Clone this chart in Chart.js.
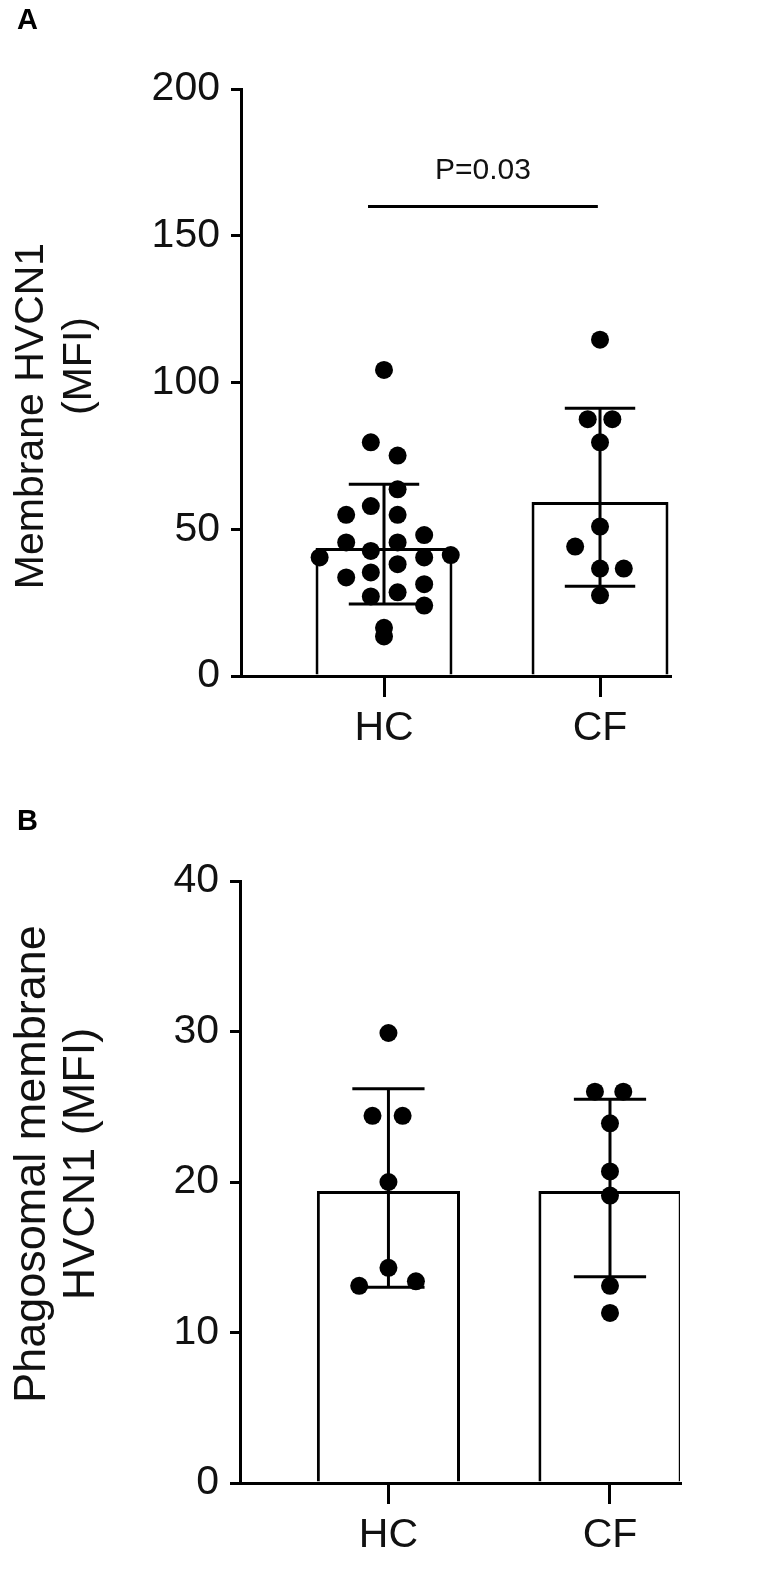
<!DOCTYPE html>
<html><head><meta charset="utf-8">
<script src="https://cdn.jsdelivr.net/npm/chart.js@4.4.1/dist/chart.umd.min.js"></script>
<style>
html,body{margin:0;padding:0;background:#fff;}
#wrap{position:relative;width:774px;height:1581px;overflow:hidden;}
canvas{position:absolute;left:0;}
#cA{top:0;} #cB{top:780px;}
.lbl{position:absolute;left:17px;font:bold 29px "Liberation Sans",Arial,sans-serif;line-height:1;color:#000;}
</style></head><body>
<div id="wrap">
<canvas id="cA" width="774" height="780"></canvas>
<canvas id="cB" width="774" height="801"></canvas>
<div class="lbl" style="top:5px">A</div>
<div class="lbl" style="top:806px">B</div>
</div>
<script>
// ---------- data ----------
const categories = ['HC', 'CF'];
const categoryX = [1, 2];

// Panel A: Membrane HVCN1 (MFI)
const aBarMeans = [43.6, 59.3];
const aErrLow  = [24.5, 30.6];
const aErrHigh = [65.3, 91.2];
const aHCPoints = [104.3, 79.6, 75.1, 63.6, 57.9, 54.9, 54.9, 48.0, 45.5, 45.5, 42.6, 40.4, 41.2, 40.4, 38.1, 35.3, 33.6, 31.3, 28.5, 27.1, 24.0, 16.4, 13.5];
const aHCJitter = [0, -0.061, 0.063, 0.063, -0.061, -0.175, 0.063, 0.186, -0.175, 0.063, -0.061, -0.298, 0.309, 0.186, 0.063, -0.061, -0.175, 0.186, 0.063, -0.061, 0.186, 0, 0];
const aCFPoints = [114.6, 87.5, 87.5, 79.6, 50.9, 44.1, 36.6, 36.6, 27.5];
const aCFJitter = [0, -0.057, 0.057, 0, 0, -0.115, 0, 0.11, 0];
const aYTicks = [0, 50, 100, 150, 200];
const aYTitle = ['Membrane HVCN1', '(MFI)'];
const aSigX = [0.926, 1.99];
const aSigY = 160;
const aSigLabel = 'P=0.03';

// Panel B: Phagosomal membrane HVCN1 (MFI)
const bBarMeans = [19.4, 19.4];
const bErrLow  = [13.0, 13.7];
const bErrHigh = [26.2, 25.5];
const bHCPoints = [29.9, 24.4, 24.4, 20.0, 14.3, 13.1, 13.4];
const bHCJitter = [0, -0.072, 0.064, 0, 0, -0.132, 0.124];
const bCFPoints = [26.0, 26.0, 23.9, 20.7, 19.1, 13.1, 11.3];
const bCFJitter = [-0.068, 0.06, 0, 0, 0, 0, 0];
const bYTicks = [0, 10, 20, 30, 40];
const bYTitle = ['Phagosomal membrane', 'HVCN1 (MFI)'];

// ---------- chart builder ----------
const FONT = '"Liberation Sans", Arial, sans-serif';
const INK = '#111';
const CAP_HALF = 0.163;

function lineDs(points) {
  return { type: 'line', data: points, borderColor: '#000', borderWidth: 3,
           pointRadius: 0, fill: false, tension: 0, order: 1 };
}

function makeTextPlugin(p) {
  return {
    id: 'texts',
    afterDraw(chart) {
      const ctx = chart.ctx;
      ctx.save();
      ctx.fillStyle = INK;
      ctx.font = p.titleFont;
      p.yTitle.forEach((t, i) => {
        ctx.save();
        ctx.translate(p.titlePos[i][0], p.titlePos[i][1]);
        ctx.rotate(-Math.PI / 2);
        ctx.textAlign = 'center';
        ctx.textBaseline = 'alphabetic';
        ctx.fillText(t, 0, 0);
        ctx.restore();
      });
      if (p.sigLabel) {
        const xs = chart.scales.x, ys = chart.scales.y;
        ctx.font = '30px ' + FONT;
        ctx.textAlign = 'center';
        ctx.textBaseline = 'middle';
        ctx.fillText(p.sigLabel, xs.getPixelForValue(p.sigLabelX), ys.getPixelForValue(p.sigLabelY));
      }
      ctx.restore();
    }
  };
}

function buildChart(id, p) {
  const ds = [];
  ds.push({ type: 'bar', data: categoryX.map((x, i) => ({ x: x, y: p.means[i] })),
            backgroundColor: '#fff', borderColor: '#000', borderWidth: 3, borderSkipped: 'bottom',
            barPercentage: p.barPct, categoryPercentage: 1, order: 3 });
  categoryX.forEach((x, i) => {
    ds.push(lineDs([{ x: x, y: p.low[i] }, { x: x, y: p.high[i] }]));
    ds.push(lineDs([{ x: x - CAP_HALF, y: p.high[i] }, { x: x + CAP_HALF, y: p.high[i] }]));
    ds.push(lineDs([{ x: x - CAP_HALF, y: p.low[i] }, { x: x + CAP_HALF, y: p.low[i] }]));
  });
  p.groups.forEach((g, gi) => {
    ds.push({ type: 'scatter', data: g.values.map((v, k) => ({ x: categoryX[gi] + g.jitter[k], y: v })),
              pointRadius: 9, pointHoverRadius: 9, backgroundColor: '#000', borderWidth: 0, order: 0 });
  });
  if (p.sigX) {
    ds.push(lineDs([{ x: p.sigX[0], y: p.sigY }, { x: p.sigX[1], y: p.sigY }]));
  }
  const canvas = document.getElementById(id);
  return new Chart(canvas, {
    type: 'bar',
    data: { datasets: ds },
    plugins: [makeTextPlugin(p)],
    options: {
      responsive: false,
      animation: false,
      events: [],
      layout: { padding: p.padding },
      plugins: { legend: { display: false }, tooltip: { enabled: false } },
      scales: {
        x: {
          type: 'linear', min: p.xMin, max: p.xMax, offset: false,
          afterFit: (s) => { s.height = p.xAxisHeight; },
          afterBuildTicks: (s) => { s.ticks = categoryX.map(v => ({ value: v })); },
          ticks: { callback: (v, i) => categories[i], font: { size: 41, family: FONT }, color: INK, padding: 7, maxRotation: 0, autoSkip: false },
          grid: { display: true, offset: false, drawOnChartArea: false, drawTicks: true, tickLength: 21, color: '#000', lineWidth: 3 },
          border: { display: true, color: '#000', width: 3 }
        },
        y: {
          type: 'linear', min: p.yTicks[0], max: p.yTicks[p.yTicks.length - 1],
          afterFit: (s) => { s.width = p.yAxisWidth; },
          afterBuildTicks: (s) => { s.ticks = p.yTicks.map(v => ({ value: v })); },
          ticks: { font: { size: 41, family: FONT }, color: INK, padding: 11 },
          grid: { display: true, drawOnChartArea: false, drawTicks: true, tickLength: 10, color: '#000', lineWidth: 3 },
          border: { display: true, color: '#000', width: 3 }
        }
      }
    }
  });
}

buildChart('cA', {
  means: aBarMeans, low: aErrLow, high: aErrHigh,
  groups: [{ values: aHCPoints, jitter: aHCJitter }, { values: aCFPoints, jitter: aCFJitter }],
  yTicks: aYTicks, yTitle: aYTitle,
  sigX: aSigX, sigY: aSigY, sigLabel: aSigLabel, sigLabelX: (aSigX[0] + aSigX[1]) / 2, sigLabelY: 172,
  barPct: 0.634, xMin: 0.338, xMax: 2.324,
  padding: { top: 89, left: 0, right: 104, bottom: 0 }, yAxisWidth: 241, xAxisHeight: 104,
  titleFont: '41px ' + FONT, titlePos: [[43, 416], [91, 366]]
});

buildChart('cB', {
  means: bBarMeans, low: bErrLow, high: bErrHigh,
  groups: [{ values: bHCPoints, jitter: bHCJitter }, { values: bCFPoints, jitter: bCFJitter }],
  yTicks: bYTicks, yTitle: bYTitle,
  barPct: 0.646, xMin: 0.33, xMax: 2.316,
  padding: { top: 101, left: 0, right: 94, bottom: 0 }, yAxisWidth: 240, xAxisHeight: 98,
  titleFont: '45px ' + FONT, titlePos: [[45, 384], [94, 384]]
});
</script>
</body></html>
